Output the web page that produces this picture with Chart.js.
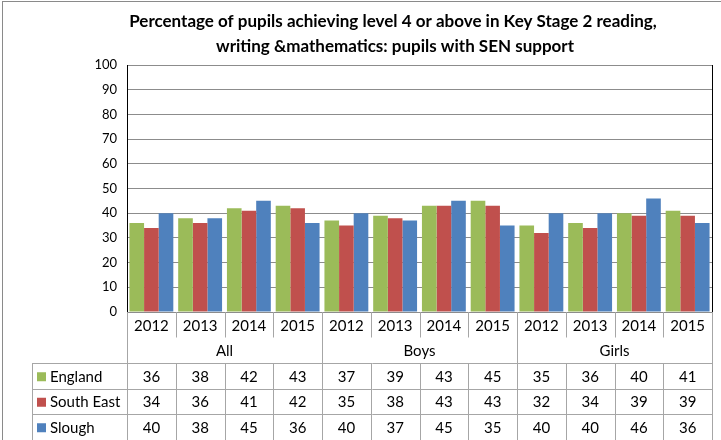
<!DOCTYPE html>
<html>
<head>
<meta charset="utf-8">
<script src="https://cdn.jsdelivr.net/npm/chart.js@4.4.1/dist/chart.umd.min.js"></script>
<style>
  html, body { margin: 0; padding: 0; background: #fff; }
  #wrap { width: 721px; height: 440px; }
</style>
</head>
<body>
<div id="wrap"><canvas id="sen-chart" width="721" height="440"></canvas></div>
<script>
// Data
var years = ['2012', '2013', '2014', '2015'];
var groups = ['All', 'Boys', 'Girls'];
var seriesNames = ['England', 'South East', 'Slough'];
var england   = [36, 38, 42, 43, 37, 39, 43, 45, 35, 36, 40, 41];
var southEast = [34, 36, 41, 42, 35, 38, 43, 43, 32, 34, 39, 39];
var slough    = [40, 38, 45, 36, 40, 37, 45, 35, 40, 40, 46, 36];
var titleLines = [
    'Percentage of pupils achieving level 4 or above in Key Stage 2 reading,',
    'writing &mathematics: pupils with SEN support'
];

var colours = ['#9BBB59', '#C0504D', '#4F81BD'];
var fontName = 'Lato, "Liberation Sans", sans-serif';

// one label per column: group + year
var labels = [];
groups.forEach(function(g) {
    years.forEach(function(y) {
        labels.push(g + ' ' + y);
    });
});

// Title, outer frame and the data table under the plot
var tablePlugin = {
    id: 'tablePlugin',
    afterDraw: function(chart) {
        var ctx = chart.ctx;
        var area = chart.chartArea;
        var x = chart.scales.x;
        var half = (x.getPixelForValue(1) - x.getPixelForValue(0)) / 2;
        var rowH = 25.5;
        var top = area.bottom;
        var groupBottom = top + 2 * rowH;
        var legendLeft = 32;
        var values = [england, southEast, slough];

        ctx.save();

        // outer frame
        ctx.strokeStyle = '#8a8a8a';
        ctx.lineWidth = 1;
        ctx.strokeRect(2.5, 1.5, 730, 450);

        // title
        ctx.fillStyle = '#000';
        ctx.textAlign = 'center';
        ctx.textBaseline = 'middle';
        ctx.font = 'bold 17px ' + fontName;
        ctx.fillText(titleLines[0], 393, 22);
        ctx.fillText(titleLines[1], 395, 47);

        // right border of plot
        ctx.strokeStyle = '#000';
        ctx.beginPath();
        ctx.moveTo(area.right + 0.5, area.top);
        ctx.lineTo(area.right + 0.5, area.bottom);
        ctx.stroke();

        // table grid
        ctx.strokeStyle = '#a6a6a6';
        ctx.beginPath();
        // left edge of the value area
        ctx.moveTo(area.left + 0.5, top);
        ctx.lineTo(area.left + 0.5, 440);
        // right edge
        ctx.moveTo(area.right + 0.5, top);
        ctx.lineTo(area.right + 0.5, 440);
        // legend column edge
        ctx.moveTo(legendLeft + 0.5, groupBottom);
        ctx.lineTo(legendLeft + 0.5, 440);
        // horizontal lines of the value rows
        for (var r = 0; r <= 3; r++) {
            var yy = Math.round(groupBottom + r * rowH) + 0.5;
            ctx.moveTo(legendLeft, yy);
            ctx.lineTo(area.right + 1, yy);
        }
        // column separators
        for (var i = 1; i < labels.length; i++) {
            var xx = Math.round(x.getPixelForValue(i) - half) + 0.5;
            if (i % years.length === 0) {
                ctx.moveTo(xx, top);
                ctx.lineTo(xx, 440);
            } else {
                ctx.moveTo(xx, top);
                ctx.lineTo(xx, top + rowH);
                ctx.moveTo(xx, groupBottom);
                ctx.lineTo(xx, 440);
            }
        }
        ctx.stroke();

        // year row and group row
        ctx.fillStyle = '#000';
        ctx.font = '15px ' + fontName;
        for (var c = 0; c < labels.length; c++) {
            ctx.fillText(years[c % years.length], x.getPixelForValue(c), top + rowH / 2 + 1);
        }
        groups.forEach(function(g, gi) {
            var a = x.getPixelForValue(gi * years.length) - half;
            var b = x.getPixelForValue(gi * years.length + years.length - 1) + half;
            ctx.fillText(g, (a + b) / 2, top + rowH * 1.5 + 1);
        });

        // value rows with legend keys
        values.forEach(function(row, ri) {
            var cy = groupBottom + ri * rowH + rowH / 2 + 1;
            ctx.fillStyle = colours[ri];
            ctx.fillRect(legendLeft + 5, cy - 4.5, 9, 9);
            ctx.fillStyle = '#000';
            ctx.textAlign = 'left';
            ctx.fillText(seriesNames[ri], legendLeft + 18, cy);
            ctx.textAlign = 'center';
            row.forEach(function(v, c) {
                ctx.fillText(String(v), x.getPixelForValue(c), cy);
            });
        });

        ctx.restore();
    }
};

var ctx = document.getElementById('sen-chart').getContext('2d');
var senChart = new Chart(ctx, {
    type: 'bar',
    data: {
        labels: labels,
        datasets: [
            { label: seriesNames[0], data: england,   backgroundColor: colours[0] },
            { label: seriesNames[1], data: southEast, backgroundColor: colours[1] },
            { label: seriesNames[2], data: slough,    backgroundColor: colours[2] }
        ]
    },
    options: {
        responsive: false,
        animation: false,
        layout: {
            padding: { left: 0, right: 9, top: 65, bottom: 128 }
        },
        datasets: {
            bar: { categoryPercentage: 0.9, barPercentage: 1.0 }
        },
        scales: {
            x: {
                display: false
            },
            y: {
                min: 0,
                max: 100,
                ticks: {
                    stepSize: 10,
                    padding: 10,
                    color: '#000',
                    font: { family: fontName, size: 13 }
                },
                grid: {
                    color: '#8c8c8c',
                    drawTicks: false
                },
                border: { color: '#000' },
                afterFit: function(scale) {
                    scale.width = 127;
                }
            }
        },
        plugins: {
            legend: { display: false },
            title: { display: false },
            tooltip: { enabled: false }
        }
    },
    plugins: [tablePlugin]
});
</script>
</body>
</html>
